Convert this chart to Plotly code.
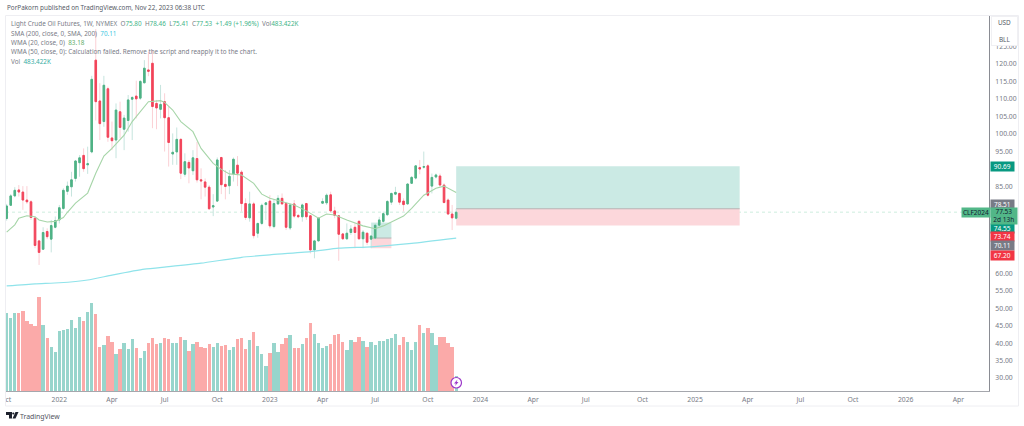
import pandas as pd
import plotly.graph_objects as go

FIRST_WEEK = "2021-10-04"
opens = [75.7,79.5,82.2,83.9,83.3,81,80.5,75.8,69.3,66.9,72,69.8,73.2,75.3,78.6,83.5,84.8,87.2,91.7,93.8,
         91.1,94.8,121.1,109.4,103.5,112.9,98.8,98.2,106.3,101.3,103.8,109.9,110.8,110.2,114.6,118.3,120.2,108.7,107,109.2,
         104.6,94.2,94.8,98.4,88.4,91.8,89.4,92.9,86.8,86.2,84.7,79,80.7,93.2,85.5,85.1,88.5,91,89,80,
         75.9,79.9,71.5,74.3,79.7,80.7,73.4,79.9,81.5,80,73,79.9,76.6,76.2,80,76.5,66.7,69.3,80.1,80.2,
         82.5,77.9,76.5,71.3,69.9,71.7,73.2,74.9,69.9,71.5,69.8,70.1,73.8,74.9,76.8,80.4,82.7,82.9,80.7,79.9,
         85.8,87.3,90.3,90.4,90.8,85,87.6,87.9,85.3,81,77,75.80]
highs = [79.9,82.7,84.7,85.3,85,85,81,76.3,69.6,73.2,72.9,75.3,76.3,79.6,84.4,86.3,89.1,92.5,93.9,95.8,
         96.3,116.6,130,114.5,116.6,113.5,103.5,108.7,109.2,105.4,111.1,110.8,115.2,115.4,121.1,123.5,123.8,109.7,114,111.6,
         107.8,100.1,101.8,98.7,94.4,92.5,95.3,97.7,90.1,87.2,85.3,82.7,93.2,93.4,89.6,89.6,93.2,93.6,89.6,81.5,
         83.4,80.5,74.5,80,80.4,82.4,81.2,82.4,82.9,80.5,80,81,77,80,80.2,76.7,69.6,76,81.5,82.9,
         83.4,79.1,76.7,71.5,74.3,73.8,74.3,75.3,72.4,71.7,71,74.3,76.2,77.7,81,83.1,84.8,83.1,81.5,85.8,
         87.9,91,92.5,94.9,91.3,88.6,88.6,88.6,85.8,81.5,79.6,78.46]
lows = [75.1,79.3,81.8,82,78.2,79.9,75.3,67.2,62.4,66.7,69.8,66,72.9,74.3,78.2,82.5,82,86.3,87.7,89.1,
        88.5,94.4,103.8,98.2,102,97.7,95.3,93,98.7,95.3,100.6,98.2,104.4,109.7,114.5,116.5,101.6,101.3,104.4,94.9,
        90.6,91.1,91.1,87,87.7,85.8,88.2,86,81.2,82,78.2,76.4,80.5,82.7,81.2,82.7,86.3,85,77.7,75.3,
        74.8,70,70.2,73.8,75.3,72.9,72.9,79.6,79.6,72.4,72.4,75.8,75.8,74.8,75.3,65.7,64.3,69.1,79.9,79.6,
        77.4,75.8,63.6,69.6,69.6,71,67.2,69.6,67.2,68.1,67.2,69.8,73.4,74.3,76.4,79.6,82.4,79.6,77.7,79.6,
        85.6,86.9,88.4,90,82,82.9,87.2,84.8,80,76.7,72.4,75.41]
closes = [79.3,82.2,83.8,83.3,81,80.5,76,68,66,71.7,70.5,73.7,75.1,78.8,83.8,85,86.8,92.2,93.1,90,
          91.4,115.6,109.2,102.9,113.9,99,98,106.8,101.8,104.5,109.7,110.4,110,115,118.8,117.9,107.8,107.4,108.4,104.6,
          97.5,94.7,98.4,88.7,92,90.2,93.1,86.8,86.5,84.7,78.5,79.4,92.5,85.4,84.9,87.8,92.7,88.7,80,76,
          79.9,70.8,74.3,79.5,80.2,73.6,80,81.5,79.9,73.2,79.6,76.4,76.2,79.6,76.2,66.7,69.3,75.8,80.6,82.4,
          77.9,76.6,71.2,69.9,71.5,72.7,71.7,69.9,71.8,68.9,70.7,73.8,75.3,77.1,80.6,82.9,83.2,80.4,79.7,85.6,
          87.5,90.8,89.9,90.6,82.4,87.5,88.2,85.3,80.3,77,75.9,77.53]
volumes_k = [2493,2354,2515,2515,2557,2247,2151,2087,3017,2108,1691,1412,1241,1926,1958,1990,2279,2022,2386,2247,
             2547,2836,2472,1423,1477,1776,1573,1177,1338,1530,1338,1659,1391,1059,1284,1530,1712,1498,1552,1712,
             1680,1530,1552,1733,1637,1284,1498,1573,1412,1391,1498,1402,1552,1455,1477,1316,1402,1659,1712,1359,
             1637,1905,1445,1188,813,1231,1552,1252,1509,1712,1787,1391,1370,1509,1712,2194,1840,1530,1370,1445,
             1509,1798,1830,1573,1305,1626,1573,1744,1605,1412,1584,1477,1616,1616,1669,1701,1840,1477,1744,1584,
             1305,1584,2119,1862,2022,1873,1477,1744,1744,1552,1423,483.422]

sma_weeks = [0,7,13,20,26,34,40,48,58,65,75,82,90,100,111]
sma_values = [56.4,57,57.3,58.1,59.5,61.2,61.9,62.9,64.6,65.3,66.2,67.2,67.6,68.6,70.11]
wma_weeks = [0,2,3,5,7,8,10,12,14,15,17,20,22,23,24,26,29,31,34,35,38,39,41,43,46,48,51,53,55,58,
             61,63,65,68,71,74,77,79,81,84,88,91,93,96,98,100,103,106,108,111]
wma_values = [71.8,73.9,75.8,76.5,76.2,75.3,74.7,74.9,76,77.5,80.1,83,88.7,91,93.6,95.8,99.6,103.5,107.8,109.2,
              109.5,109,106.8,103.5,100.6,95.8,91.5,89.8,88.5,88.2,85.8,82.7,81.5,80.5,79.6,77.9,75.8,77,76.7,75.3,
              73.6,72.8,73.6,75.3,76.4,78.6,82.4,84.4,85,83.18]

time_tick_dates = ["2021-10-07","2022-01-03","2022-04-04","2022-07-04","2022-10-03","2023-01-02","2023-04-03",
                   "2023-07-03","2023-10-02","2024-01-01","2024-04-01","2024-07-01","2024-10-07","2025-01-06",
                   "2025-04-07","2025-07-07","2025-10-06","2026-01-05","2026-04-06"]
time_tick_labels = ["ct","2022","Apr","Jul","Oct","2023","Apr","Jul","Oct","2024","Apr","Jul","Oct","2025",
                    "Apr","Jul","Oct","2026","Apr"]
price_ticks = [30,35,40,45,50,55,60,85,95,100,105,110,115,120,125]

long_box = {"start": "2023-11-20", "end": "2025-03-24", "target": 90.69, "entry": 78.51, "stop": 73.74}
small_box = {"start_week": 90, "end_week": 95, "target": 74.55, "entry": 70.11, "stop": 67.20}
last_price = 77.53

price_tags = [("90.69", 167, "#089981"), ("78.51", 204, "#787b86"), ("74.55", 228, "#089981"),
              ("73.74", 237, "#f23645"), ("70.11", 246, "#787b86"), ("67.20", 255, "#f23645")]

UP, DOWN = "#4fb285", "#f2445a"
UP_WICK, DOWN_WICK = "#c6e4de", "#fbd0d5"
UP_VOL, DOWN_VOL = "#98d5cc", "#fbaaa9"
FONT = "Noto Sans"
TEXT = "#787b86"

dates = pd.date_range(FIRST_WEEK, periods=len(opens), freq="7D").strftime("%Y-%m-%d").tolist()
body_hi = [max(o, c) for o, c in zip(opens, closes)]
body_lo = [min(o, c) for o, c in zip(opens, closes)]
vol_colors = [UP_VOL if c >= o else DOWN_VOL for o, c in zip(opens, closes)]

L, R, T, B = 6, 35, 16, 35
PW, PH = 1024 - L - R, 426 - T - B
px = lambda x: (x - L) / PW
py = lambda y: (T + PH - y) / PH

fig = go.Figure()
fig.add_trace(go.Bar(x=dates, y=volumes_k, yaxis="y2", marker=dict(color=vol_colors, line_width=0), width=7*24*3600*1000*0.82, name="Vol"))
fig.add_trace(go.Candlestick(x=dates, open=opens, high=highs, low=lows, close=closes, name="wicks",
                             increasing=dict(line=dict(color=UP_WICK, width=1), fillcolor=UP_WICK),
                             decreasing=dict(line=dict(color=DOWN_WICK, width=1), fillcolor=DOWN_WICK)))
fig.add_trace(go.Candlestick(x=dates, open=opens, high=body_hi, low=body_lo, close=closes, name="CLF2024",
                             increasing=dict(line=dict(color=UP, width=1), fillcolor=UP),
                             decreasing=dict(line=dict(color=DOWN, width=1), fillcolor=DOWN)))
fig.add_trace(go.Scatter(x=[dates[i] for i in sma_weeks], y=sma_values, mode="lines", name="SMA 200",
                         line=dict(color="#8fe3ea", width=1.2, shape="spline", smoothing=0.5)))
fig.add_trace(go.Scatter(x=[dates[i] for i in wma_weeks], y=wma_values, mode="lines", name="WMA 20",
                         line=dict(color="#a6d5a8", width=1.1)))

TEAL_FILL, RED_FILL, GREY = "#cbeae4", "#fcd7db", "#b3b3b3"
shapes = []
def box(x0, x1, y0, y1, color):
    shapes.append(dict(type="rect", xref="x", yref="y", x0=x0, x1=x1, y0=y0, y1=y1, fillcolor=color, line_width=0, layer="below"))
def hline(x0, x1, y, color, width=1, dash="solid"):
    shapes.append(dict(type="line", xref="x", yref="y", x0=x0, x1=x1, y0=y, y1=y, line=dict(color=color, width=width, dash=dash), layer="below"))

box(long_box["start"], long_box["end"], long_box["entry"], long_box["target"], TEAL_FILL)
box(long_box["start"], long_box["end"], long_box["stop"], long_box["entry"], RED_FILL)
hline(long_box["start"], long_box["end"], long_box["entry"], GREY)
s0, s1 = dates[small_box["start_week"]], dates[small_box["end_week"]]
box(s0, s1, small_box["entry"], small_box["target"], TEAL_FILL)
box(s0, s1, small_box["stop"], small_box["entry"], RED_FILL)
hline(s0, s1, small_box["entry"], GREY)
shapes.append(dict(type="line", xref="paper", yref="y", x0=0, x1=1, y0=last_price, y1=last_price,
                   line=dict(color="#c2e9d6", width=0.8, dash="dot"), layer="below"))
# outer frame
shapes.append(dict(type="rect", xref="paper", yref="paper", x0=px(5.5), x1=px(1018.5), y0=py(406), y1=py(15.5),
                   line=dict(color="#eeeef2", width=1), fillcolor="rgba(0,0,0,0)", layer="above"))
# marker badge
shapes.append(dict(type="circle", xref="paper", yref="paper", x0=px(451), x1=px(461.5), y0=py(388), y1=py(377.5),
                   line=dict(color="#9c39c9", width=1.2), fillcolor="white", layer="above"))
def poly(points, fill):
    d = "M " + " L ".join(f"{px(a):.5f},{py(b):.5f}" for a, b in points) + " Z"
    shapes.append(dict(type="path", xref="paper", yref="paper", path=d, fillcolor=fill, line_width=0, layer="above"))
poly([(457.5, 379.5), (454, 383.5), (456, 383.5), (455, 386), (458.5, 382), (456.6, 382)], "#9c39c9")
# TradingView logo
poly([(6, 412), (12, 412), (12, 418.5), (9, 418.5), (9, 415), (6, 415)], "#1e222d")
poly([(15.5, 412), (18.5, 412), (15.5, 418.5), (12.5, 418.5)], "#1e222d")
shapes.append(dict(type="circle", xref="paper", yref="paper", x0=px(12.2), x1=px(14.4), y0=py(414.6), y1=py(412.4),
                   fillcolor="#1e222d", line_width=0, layer="above"))

ann = []
def text(x, y, s, size=6.35, color=TEXT):
    ann.append(dict(xref="paper", yref="paper", x=px(x), y=py(y), text=s, showarrow=False, xanchor="left", yanchor="middle",
                    align="left", font=dict(family=FONT, size=size, color=color)))
def span(s, c):
    return f'<span style="color:{c}">{s}</span>'
G = "#3fb488"
text(4.5, 8, "PorPakorn published on TradingView.com, Nov 22, 2023 06:38 UTC", color="#555a66")
text(8.5, 23, "Light Crude Oil Futures, 1W, NYMEX  O" + span("75.80", G) + "  H" + span("78.46", G) + "  L" + span("75.41", G)
     + "  C" + span("77.53", G) + "  " + span("+1.49 (+1.96%)", G) + "  Vol" + span("483.422K", G))
text(8.5, 33, "SMA (200, close, 0, SMA, 200)  " + span("70.11", "#3fc8df"))
text(8.5, 42, "WMA (20, close, 0)  " + span("83.18", "#63ad68"))
text(8.5, 52, "WMA (50, close, 0): Calculation failed. Remove the script and reapply it to the chart.")
text(8.5, 61, "Vol  " + span("483.422K", "#37ada3"))
text(17.5, 416, "TradingView", size=6.9, color="#50535e")

def tag(x0, y, w, h, s, bg, fg="white"):
    ann.append(dict(xref="paper", yref="paper", x=px(x0), y=py(y), text=s, showarrow=False, xanchor="left", yanchor="middle",
                    width=w, height=h, bgcolor=bg, borderpad=0, align="center", valign="middle",
                    font=dict(family=FONT, size=6.5, color=fg)))
for s, y, c in price_tags:
    tag(989.5, y, 22.5, 9, s, c)
tag(961, 212.5, 28, 8.5, "CLF2024", "#52b788", "#123")
tag(989.5, 215.7, 25.5, 15.5, "77.53<br>2d 13h", "#52b788", "#123")
# unit switcher
ann.append(dict(xref="paper", yref="paper", x=px(991), y=py(31), text="USD<br><br>BLL", showarrow=False, xanchor="left", yanchor="middle",
                width=25, height=28, bgcolor="white", bordercolor="#f0f0f3", borderwidth=1, borderpad=0, align="center",
                font=dict(family=FONT, size=6.4, color="#555a66")))

fig.update_layout(
    width=1024, height=426, margin=dict(l=L, r=R, t=T, b=B, pad=0), autosize=False,
    paper_bgcolor="white", plot_bgcolor="white", showlegend=False, boxgap=0.45, bargap=0, barmode="overlay",
    font=dict(family=FONT, size=6.8, color=TEXT), shapes=shapes, annotations=ann,
    xaxis=dict(type="date", range=["2021-10-02 20:00", "2026-05-29"], rangeslider=dict(visible=False), showgrid=False, zeroline=False,
               tickmode="array", tickvals=time_tick_dates, ticktext=time_tick_labels, tickangle=0,
               ticks="outside", ticklen=2, tickcolor="white", showline=True, linecolor="#a5a7ad", linewidth=1,
               tickfont=dict(family=FONT, size=6.8, color=TEXT)),
    yaxis=dict(side="right", range=[26.28, 133.75], showgrid=False, zeroline=False, tickmode="array", tickvals=price_ticks,
               ticktext=[f"{v:.2f}" for v in price_ticks], ticks="outside", ticklen=4, tickcolor="white",
               showline=True, linecolor="#8a8c93", linewidth=1, tickfont=dict(family=FONT, size=6.8, color=TEXT)),
    yaxis2=dict(overlaying="y", range=[0, 12037], visible=False),
)
fig.write_html("out.html", config={"displayModeBar": False},
               post_script="document.body.style.margin='0';document.body.style.overflow='hidden';")
